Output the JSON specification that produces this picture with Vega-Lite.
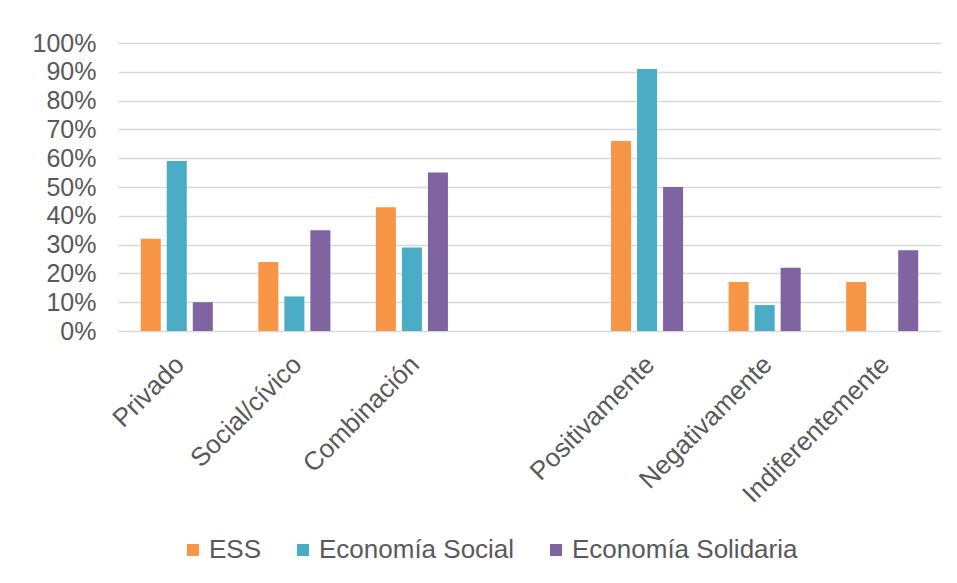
{
  "$schema": "https://vega.github.io/schema/vega-lite/v6.json",
  "width": 823,
  "height": 288,
  "autosize": {"type": "none"},
  "padding": {"left": 118, "top": 43, "right": 16, "bottom": 252},
  "background": "white",
  "config": {
    "font": "Liberation Sans",
    "view": {"stroke": null},
    "axis": {"labelColor": "#595959", "labelFont": "Liberation Sans"}
  },
  "data": {
    "values": [
      {"cat": "Privado", "serie": "ESS", "v": 0.32},
      {"cat": "Privado", "serie": "Economía Social", "v": 0.59},
      {"cat": "Privado", "serie": "Economía Solidaria", "v": 0.10},
      {"cat": "Social/cívico", "serie": "ESS", "v": 0.24},
      {"cat": "Social/cívico", "serie": "Economía Social", "v": 0.12},
      {"cat": "Social/cívico", "serie": "Economía Solidaria", "v": 0.35},
      {"cat": "Combinación", "serie": "ESS", "v": 0.43},
      {"cat": "Combinación", "serie": "Economía Social", "v": 0.29},
      {"cat": "Combinación", "serie": "Economía Solidaria", "v": 0.55},
      {"cat": "Positivamente", "serie": "ESS", "v": 0.66},
      {"cat": "Positivamente", "serie": "Economía Social", "v": 0.91},
      {"cat": "Positivamente", "serie": "Economía Solidaria", "v": 0.50},
      {"cat": "Negativamente", "serie": "ESS", "v": 0.17},
      {"cat": "Negativamente", "serie": "Economía Social", "v": 0.09},
      {"cat": "Negativamente", "serie": "Economía Solidaria", "v": 0.22},
      {"cat": "Indiferentemente", "serie": "ESS", "v": 0.17},
      {"cat": "Indiferentemente", "serie": "Economía Solidaria", "v": 0.28}
    ]
  },
  "mark": {"type": "bar"},
  "encoding": {
    "x": {
      "field": "cat",
      "type": "nominal",
      "scale": {"domain": ["Privado", "Social/cívico", "Combinación", " ", "Positivamente", "Negativamente", "Indiferentemente"], "paddingInner": 0, "paddingOuter": 0},
      "axis": {
        "title": null,
        "labelAngle": -45,
        "labelAlign": "right",
        "labelBaseline": "top",
        "labelFontSize": 26,
        "labelPadding": 20,
        "labelOverlap": false,
        "labelLimit": 0,
        "ticks": false,
        "domain": false,
        "labelOffset": -6
      }
    },
    "xOffset": {
      "field": "serie",
      "type": "nominal",
      "scale": {"domain": ["ESS", "Economía Social", "Economía Solidaria"], "paddingInner": 0.23, "paddingOuter": 0.875}
    },
    "y": {
      "field": "v",
      "type": "quantitative",
      "scale": {"domain": [0, 1], "nice": false},
      "axis": {
        "title": null,
        "format": ".0%",
        "values": [0, 0.1, 0.2, 0.3, 0.4, 0.5, 0.6, 0.7, 0.8, 0.9, 1],
        "labelFontSize": 25,
        "labelPadding": 22,
        "labelOverlap": false,
        "labelBound": false,
        "ticks": false,
        "domain": false,
        "gridColor": "#D9D9D9",
        "gridWidth": 1.5
      }
    },
    "color": {
      "field": "serie",
      "type": "nominal",
      "scale": {"domain": ["ESS", "Economía Social", "Economía Solidaria"], "range": ["#F79646", "#4BACC6", "#8064A2"]},
      "legend": {
        "title": null,
        "orient": "none",
        "direction": "horizontal",
        "legendX": 62,
        "legendY": 494,
        "symbolType": "square",
        "symbolSize": 144,
        "symbolStrokeWidth": 0,
        "labelFontSize": 26,
        "labelColor": "#595959",
        "labelOffset": 3,
        "labelLimit": 0,
        "columnPadding": 28
      }
    }
  }
}
